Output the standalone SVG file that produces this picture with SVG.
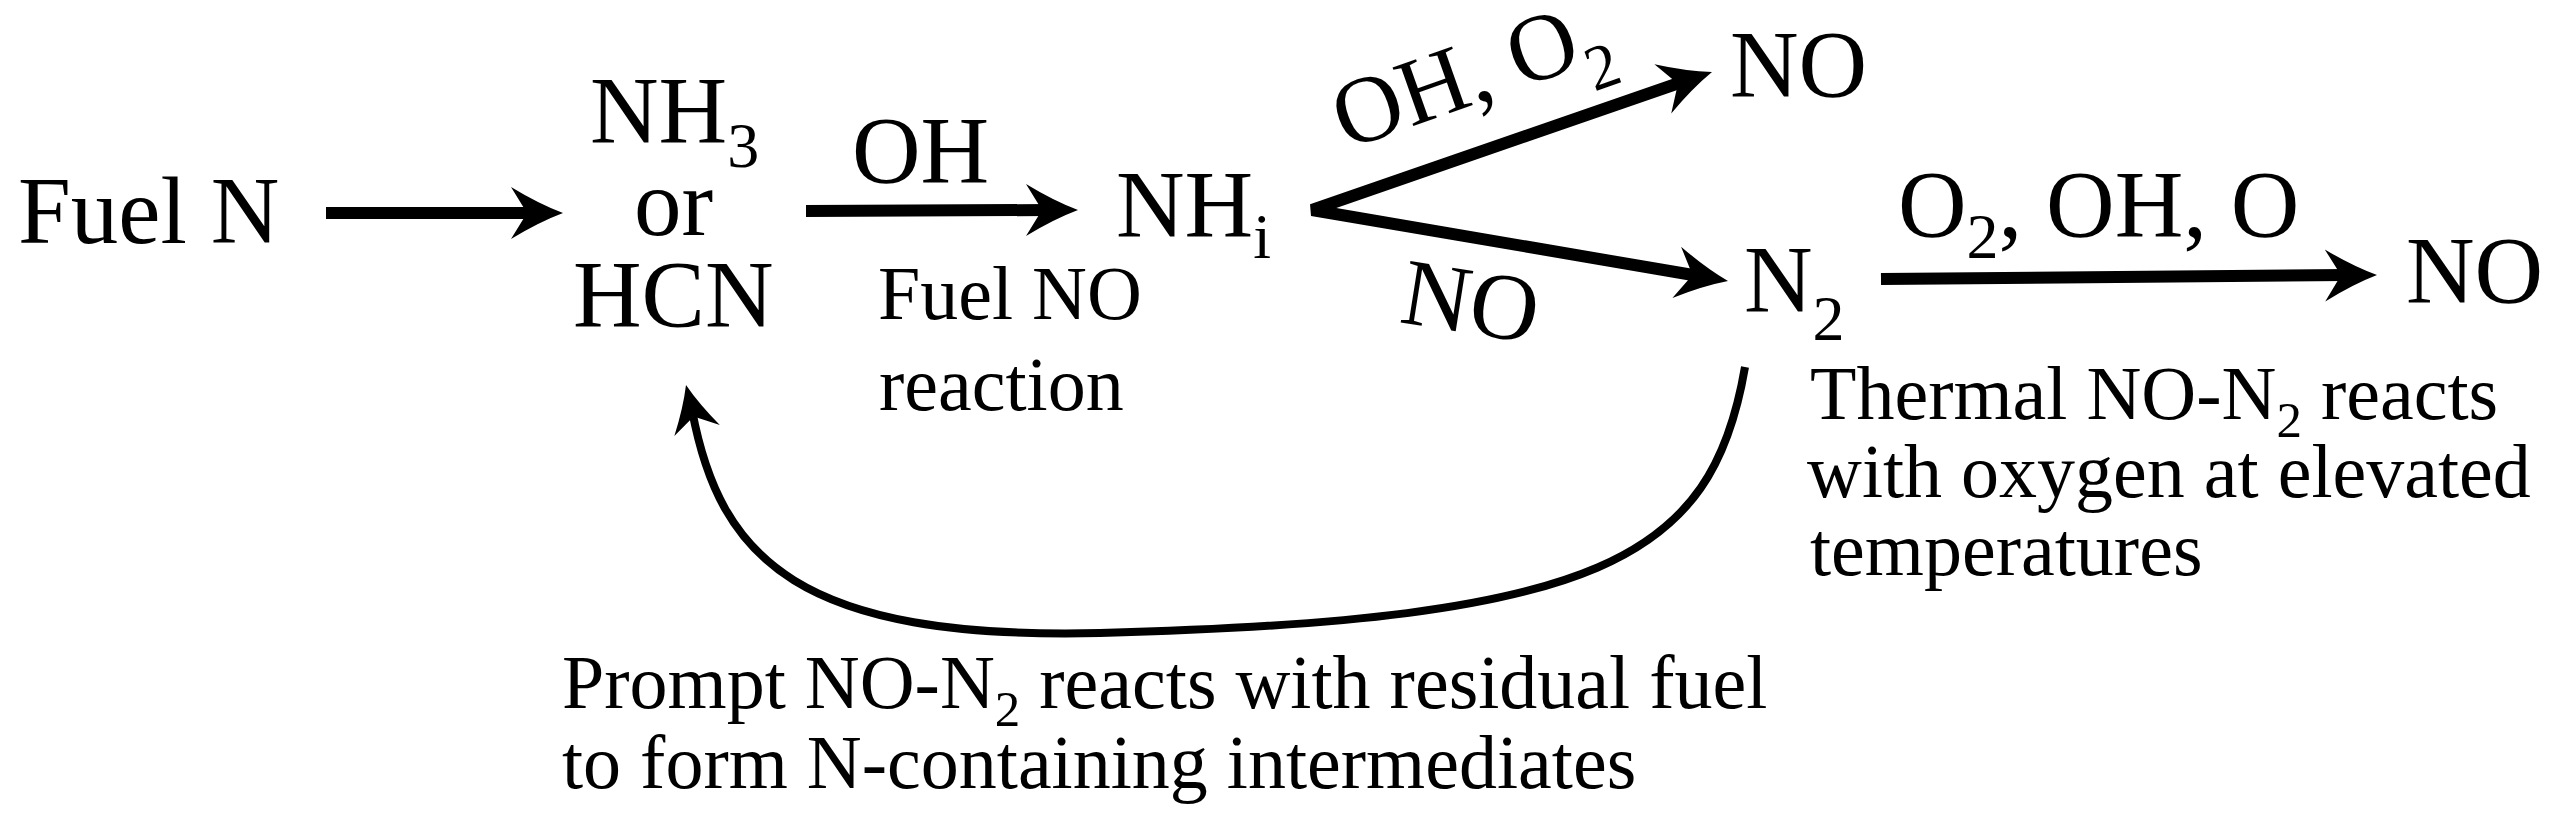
<svg xmlns="http://www.w3.org/2000/svg" xmlns:xlink="http://www.w3.org/1999/xlink" width="2551" height="826" viewBox="0 0 2551 826">
<style>
.t{font-family:"Liberation Serif","Times New Roman",serif;fill:#000;}
.big{font-size:95px;}
.sm{font-size:76px;}
.sub{font-size:64px;}
.subs{font-size:51px;}
.ln{stroke:#000;stroke-width:12;fill:none;}
.cv{stroke:#000;stroke-width:8;fill:none;}
</style>
<defs>
<path id="head" d="M0,0 Q-24,-9 -52,-26 L-36,0 L-52,26 Q-24,9 0,0 Z" fill="#000"/>
</defs>
<rect width="2551" height="826" fill="#fff"/>
<g id="connectors">
<path class="ln" d="M326,213 L535,213"/>
<use xlink:href="#head" transform="translate(563,213)"/>
<path class="ln" d="M806,211 L1048,210"/>
<use xlink:href="#head" transform="translate(1078,210)"/>
<path class="ln" stroke-linejoin="bevel" d="M1679,83 L1312,210 L1693,275"/>
<use xlink:href="#head" transform="translate(1712,72) rotate(-18.9)"/>
<use xlink:href="#head" transform="translate(1728,281) rotate(9.6)"/>
<path class="ln" d="M1881,279 L2345,275"/>
<use xlink:href="#head" transform="translate(2377,275) rotate(-0.5)"/>
<path class="cv" d="M1745,367 C1712,560 1600,620 1100,633 C800,640 720,560 692,410"/>
<use xlink:href="#head" transform="translate(686,385) rotate(-103.7) scale(0.9)"/>
</g>
<g id="fuel-n"><text class="t big" x="18" y="243">Fuel N</text></g>
<g id="nh3-hcn">
<text class="t big" x="590" y="143">NH<tspan class="sub" dy="24">3</tspan></text>
<text class="t big" x="634" y="235">or</text>
<text class="t big" x="573" y="327">HCN</text>
</g>
<g id="label-oh"><text class="t big" x="852" y="183">OH</text></g>
<g id="label-fuel-no"><text class="t sm" x="878" y="319">Fuel NO</text><text class="t sm" x="879" y="410">reaction</text></g>
<g id="nhi"><text class="t big" x="1116" y="237">NH<tspan class="sub" dy="21">i</tspan></text></g>
<g id="label-oh-o2"><text class="t big" transform="translate(1346,150) rotate(-19.5)">OH, O<tspan class="sub" dy="28">2</tspan></text></g>
<g id="label-no"><text class="t big" transform="translate(1398,322) rotate(9)">NO</text></g>
<g id="no-top"><text class="t big" x="1730" y="97">NO</text></g>
<g id="n2"><text class="t big" x="1744" y="312">N<tspan class="sub" dy="28">2</tspan></text></g>
<g id="label-o2-oh-o"><text class="t big" x="1898" y="237">O<tspan class="sub" dy="21">2</tspan><tspan dy="-21">, OH, O</tspan></text></g>
<g id="no-right"><text class="t big" x="2406" y="303">NO</text></g>
<g id="label-thermal">
<text class="t sm" x="1810" y="419">Thermal NO-N<tspan class="subs" dy="18">2</tspan><tspan dy="-18"> reacts</tspan></text>
<text class="t sm" x="1807" y="497">with oxygen at elevated</text>
<text class="t sm" x="1810" y="575">temperatures</text>
</g>
<g id="label-prompt">
<text class="t sm" x="562" y="708">Prompt NO-N<tspan class="subs" dy="18">2</tspan><tspan dy="-18"> reacts with residual fuel</tspan></text>
<text class="t sm" x="562" y="788">to form N-containing intermediates</text>
</g>
</svg>
